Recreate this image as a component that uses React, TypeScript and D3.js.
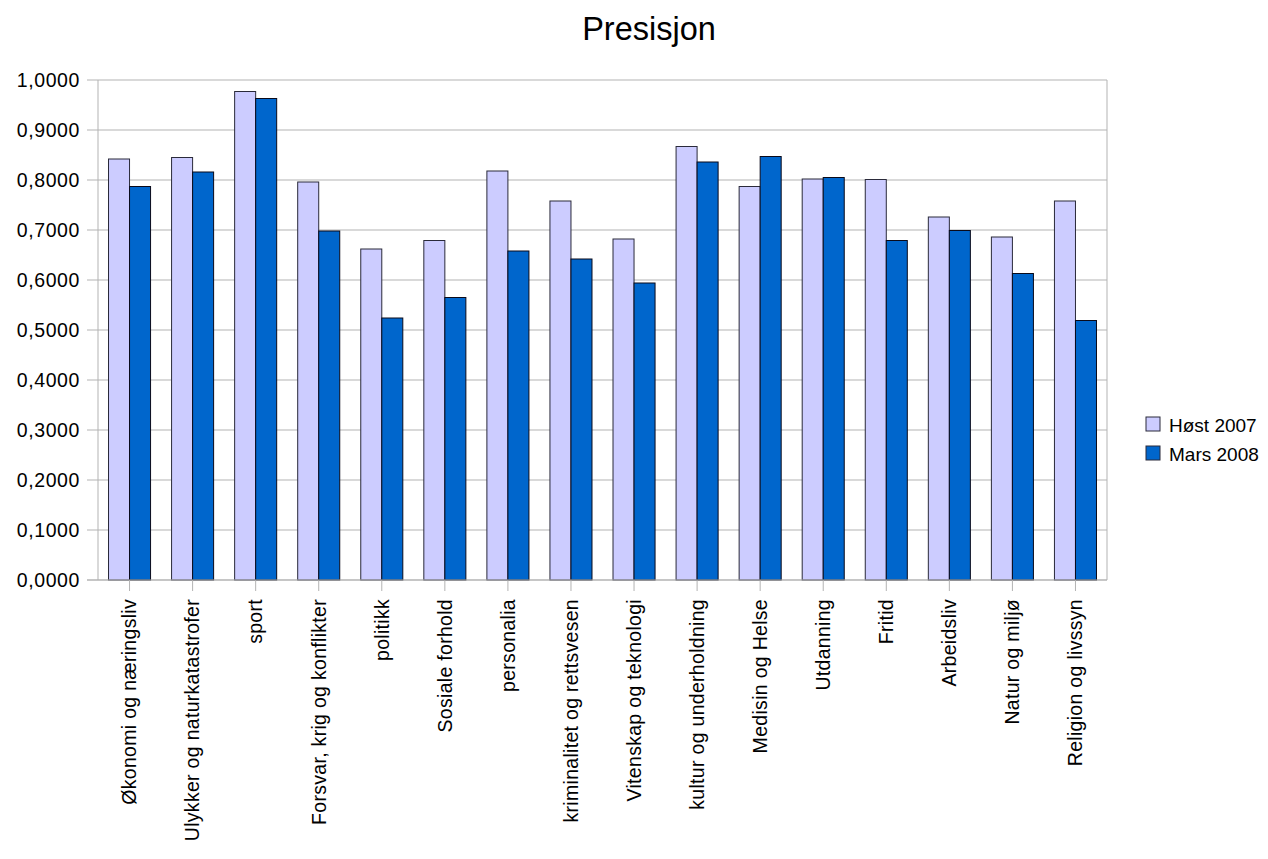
import React from "react";
import * as d3 from "d3";

const categories = [
  "Økonomi og næringsliv",
  "Ulykker og naturkatastrofer",
  "sport",
  "Forsvar, krig og konflikter",
  "politikk",
  "Sosiale forhold",
  "personalia",
  "kriminalitet og rettsvesen",
  "Vitenskap og teknologi",
  "kultur og underholdning",
  "Medisin og Helse",
  "Utdanning",
  "Fritid",
  "Arbeidsliv",
  "Natur og miljø",
  "Religion og livssyn",
];

const host2007 = [0.842, 0.845, 0.977, 0.796, 0.662, 0.679, 0.818, 0.758, 0.682, 0.867, 0.787, 0.802, 0.801, 0.726, 0.686, 0.758];
const mars2008 = [0.787, 0.816, 0.963, 0.698, 0.524, 0.565, 0.658, 0.642, 0.594, 0.836, 0.847, 0.805, 0.679, 0.699, 0.613, 0.519];

const seriesNames = ["Høst 2007", "Mars 2008"];
const seriesColors = ["#ccccff", "#0066cc"];
const yTicks = [0, 0.1, 0.2, 0.3, 0.4, 0.5, 0.6, 0.7, 0.8, 0.9, 1.0];

const W = 1268;
const H = 859;
const left = 98;
const right = 1107;
const top = 80;
const bottom = 580;
const FONT = "'Liberation Sans', Arial, sans-serif";

const locale = d3.formatLocale({ decimal: ",", thousands: " ", grouping: [3], currency: ["", " kr"] });
const fmt = locale.format(".4f");

export default function App() {
  const x = d3.scaleBand<string>().domain(categories).range([left, right]).paddingInner(0).paddingOuter(0);
  const y = d3.scaleLinear().domain([0, 1]).range([bottom, top]);
  const bw = x.bandwidth();
  const barW = bw / 3;
  const series = [host2007, mars2008];

  return (
    <svg width={W} height={H} style={{ position: "absolute", left: 0, top: 0, display: "block", background: "#fff" }} fontFamily={FONT}>
      <text x={649} y={40} textAnchor="middle" fontSize={32.5} fill="#000">Presisjon</text>

      {yTicks.map((t) => (
        <g key={t}>
          <line x1={87} x2={right} y1={y(t)} y2={y(t)} stroke="#b3b3b3" strokeWidth={1} />
          <text x={80} y={y(t)} dy="0.35em" textAnchor="end" fontSize={19.5} letterSpacing={0.6} fill="#000">{fmt(t)}</text>
        </g>
      ))}
      <line x1={left} x2={left} y1={top} y2={bottom} stroke="#b3b3b3" />
      <line x1={right} x2={right} y1={top} y2={bottom} stroke="#b3b3b3" />

      {categories.map((c, i) => (
        <g key={c}>
          {series.map((s, k) => (
            <rect
              key={k}
              x={(x(c) as number) + bw / 2 - barW + k * barW}
              y={y(s[i])}
              width={barW}
              height={y(0) - y(s[i])}
              fill={seriesColors[k]}
              stroke={k === 0 ? "#2a2a3a" : "#0a0a1a"}
              strokeWidth={1}
            />
          ))}
        </g>
      ))}

      <line x1={87} x2={right} y1={bottom} y2={bottom} stroke="#b3b3b3" />
      {categories.map((c) => {
        const cx = (x(c) as number) + bw / 2;
        return (
          <g key={"t" + c}>
            <line x1={cx} x2={cx} y1={bottom} y2={bottom + 11} stroke="#b3b3b3" />
            <text
              transform={`translate(${cx},599) rotate(-90)`}
              textAnchor="end"
              dy="0.35em"
              fontSize={19.5}
              letterSpacing={0.3}
              fill="#000"
            >
              {c}
            </text>
          </g>
        );
      })}

      {seriesNames.map((n, k) => (
        <g key={n}>
          <rect x={1146} y={417 + k * 29} width={14} height={14} fill={seriesColors[k]} stroke="#2a2a3a" />
          <text x={1169} y={432 + k * 29} fontSize={19} fill="#000">{n}</text>
        </g>
      ))}
    </svg>
  );
}
